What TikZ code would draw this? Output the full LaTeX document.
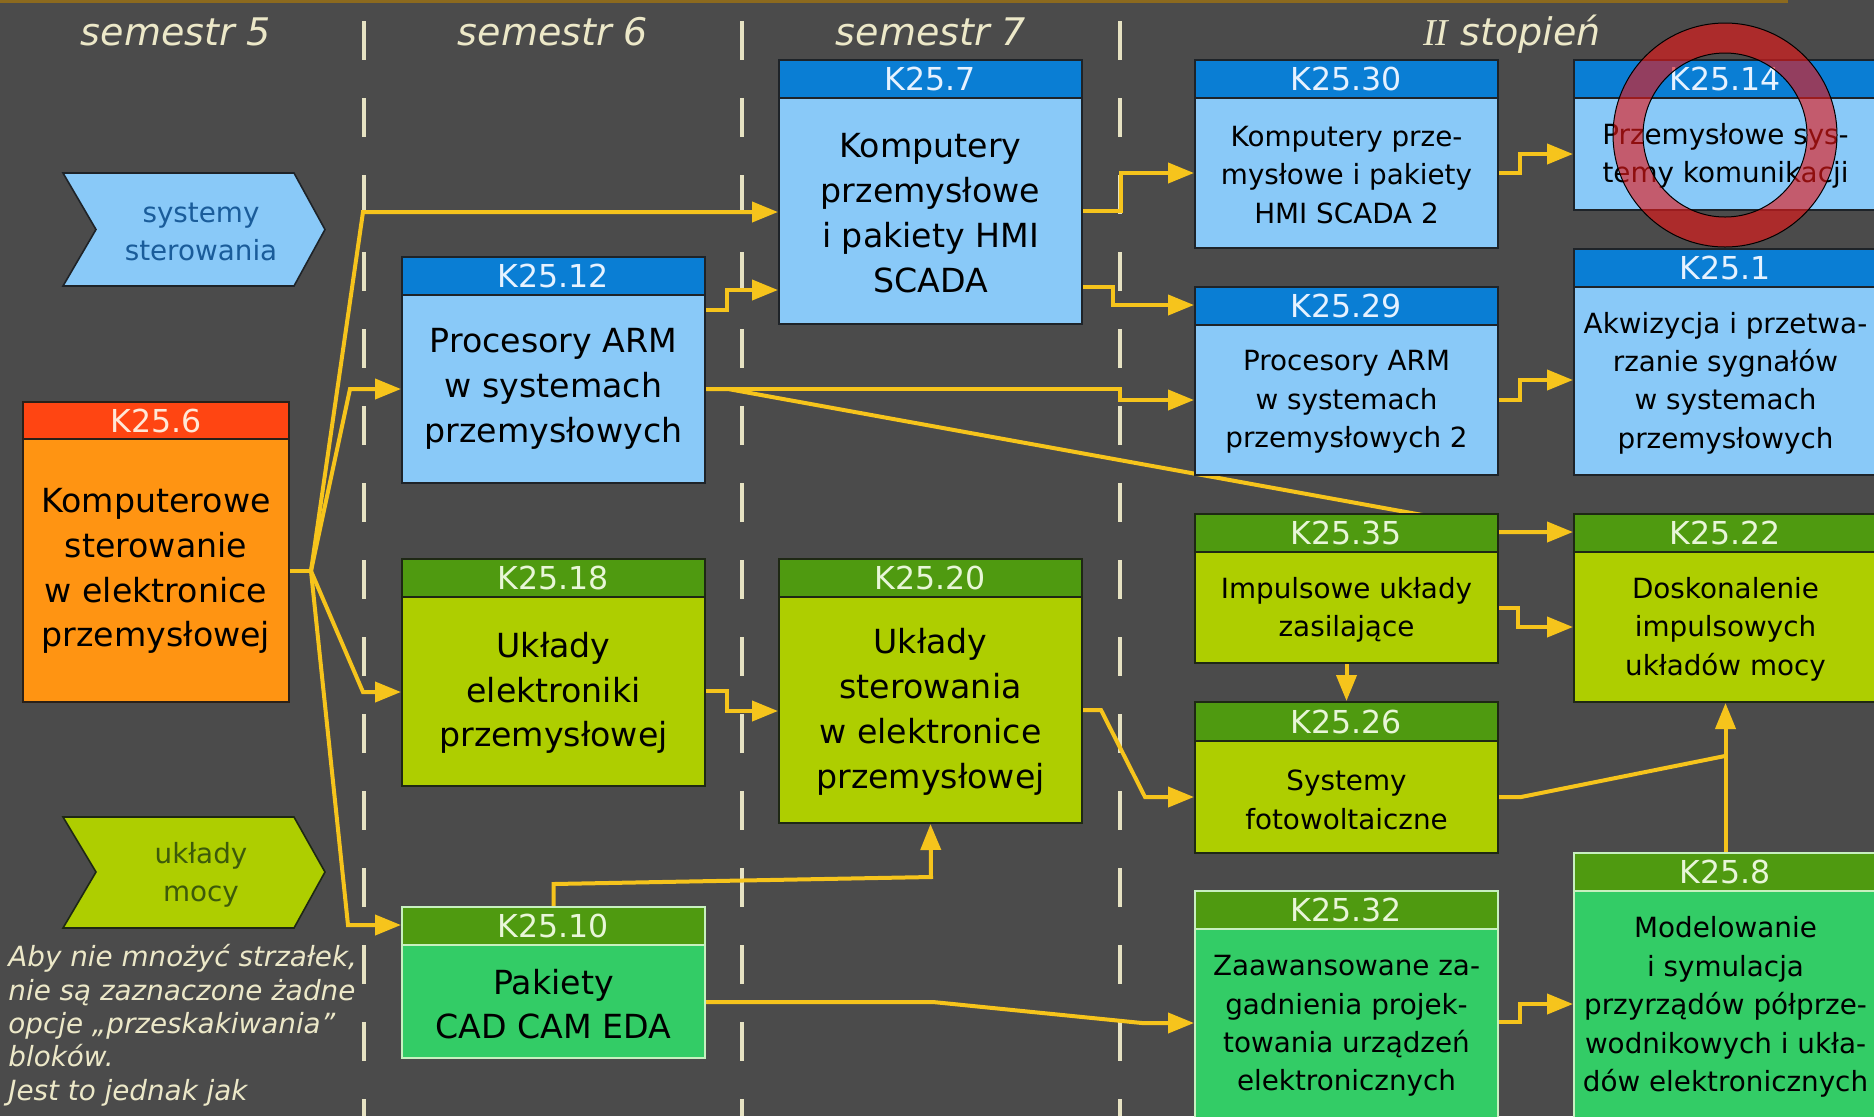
\documentclass[tikz,border=0pt]{standalone}
\usepackage{fontspec}
\setmainfont{DejaVu Sans}
\newfontfamily\romanfam{Liberation Serif}
\usetikzlibrary{arrows.meta,fit,calc}

\definecolor{bg}{HTML}{4B4B4B}
\definecolor{rule}{HTML}{E6E2C2}
\definecolor{topline}{HTML}{8C6A1E}
\definecolor{flow}{HTML}{F6C41C}
\definecolor{cream}{HTML}{ECE8C8}
\definecolor{bluehead}{HTML}{0A7ED4}
\definecolor{bluebody}{HTML}{89C9F8}
\definecolor{blueedge}{HTML}{1E2328}
\definecolor{bluetext}{HTML}{E6F2FF}
\definecolor{limehead}{HTML}{4F9A10}
\definecolor{limebody}{HTML}{AECE00}
\definecolor{limeedge}{HTML}{1E2814}
\definecolor{limetext}{HTML}{E8F6D8}
\definecolor{greenhead}{HTML}{4F9A10}
\definecolor{greenbody}{HTML}{33CC66}
\definecolor{greenedge}{HTML}{C8F0C0}
\definecolor{greentext}{HTML}{E8F6D8}
\definecolor{orangehead}{HTML}{FF4512}
\definecolor{orangebody}{HTML}{FF9412}
\definecolor{orangeedge}{HTML}{2A2018}
\definecolor{orangetext}{HTML}{FFE8D8}
\definecolor{chevblue}{HTML}{89C9F8}
\definecolor{chevbluetext}{HTML}{1A5C9A}
\definecolor{chevlime}{HTML}{AECE00}
\definecolor{chevlimetext}{HTML}{3D5A0A}
\definecolor{ring}{HTML}{E81818}

\newcommand\bigtxt{\fontsize{16.6}{22.4}\selectfont}
\newcommand\smalltxt{\fontsize{13.9}{19.2}\selectfont}
\newcommand\crswidth{303}

% course box: name, left x, top y, header bottom y, bottom y,
% colour scheme, code, text, text centre y
\newcommand\course[9]{%
  \fill[#6body] (#2,#4) rectangle ({#2+\crswidth},#5);
  \fill[#6head] (#2,#3) rectangle ({#2+\crswidth},#4);
  \draw[#6edge, line width=1pt] (#2,#4) -- ({#2+\crswidth},#4);
  \node[fit={(#2,#3) ({#2+\crswidth},#5)}, inner sep=0pt, draw=#6edge, line width=1pt] (#1) {};
  \node[codetext, text=#6text] (#1-code) at ({#2+\crswidth/2},{(#3+#4)/2}) {#7};
  \node[bodytext, font=\crsfont] (#1-text) at ({#2+\crswidth/2},#9) {#8};
}
\newcommand\courseL{\def\crsfont{\bigtxt}\course}
\newcommand\courseS{\def\crsfont{\smalltxt}\course}

\pgfdeclarelayer{ground}
\pgfdeclarelayer{links}
\pgfdeclarelayer{marks}
\pgfsetlayers{ground,links,main,marks}

\tikzset{
  codetext/.style={inner sep=0pt, font=\fontsize{15.8}{18}\selectfont},
  bodytext/.style={inner sep=0pt, align=center, text=black},
  semhead/.style={anchor=base, inner sep=0pt, text=cream, font=\fontsize{19}{22}\selectfont\itshape},
  chevtext/.style={inner sep=0pt, align=center, font=\fontsize{13.9}{19}\selectfont},
  flowline/.style={draw=flow, line width=2pt},
  flow/.style={flowline, -{Triangle[length=13pt,width=10pt]}},
  sep/.style={draw=rule, line width=2pt, dash pattern=on 19.5pt off 19pt},
}

\begin{document}
\begin{tikzpicture}[x=0.5pt,y=-0.5pt]
\useasboundingbox (0,0) rectangle (1874,1116);
\clip (0,0) rectangle (1874,1116);

\begin{pgfonlayer}{ground}
\fill[bg] (0,0) rectangle (1874,1116);
\fill[topline] (0,0) rectangle (1788,3);
% semester separators
\foreach \sx in {364,742,1120} \draw[sep] (\sx,21) -- (\sx,1116);
\end{pgfonlayer}

% column titles
\node[semhead] (sem5) at (176,45) {semestr 5};
\node[semhead] (sem6) at (553,45) {semestr 6};
\node[semhead] (sem7) at (931,45) {semestr 7};
\node[semhead] (sem2) at (1512,45) {{\romanfam II} stopień};

% footnote
\node[anchor=north west, inner sep=0pt, align=left, text=cream,
      font=\fontsize{13.9}{16.7}\selectfont\itshape] (note) at (8,944)
  {Aby nie mnożyć strzałek,\\nie są zaznaczone żadne\\opcje „przeskakiwania”\\bloków.\\Jest to jednak jak};

% specialisation chevrons
\fill[chevblue, draw=blueedge, line width=0.8pt] (63,173) -- (294,173) -- (325,229.5) -- (294,286) -- (63,286) -- (96,229.5) -- cycle;
\node[chevtext, text=chevbluetext] (sys) at (201,232) {systemy\\sterowania};
\fill[chevlime, draw=limeedge, line width=0.8pt] (63,817) -- (294,817) -- (325,872) -- (294,928) -- (63,928) -- (96,872) -- cycle;
\node[chevtext, text=chevlimetext] (moc) at (201,875) {układy\\mocy};

% courses
\renewcommand\crswidth{266}
\courseL{k6}{23}{402}{439}{702}{orange}{K25.6}{Komputerowe\\sterowanie\\w elektronice\\przemysłowej}{571}
\renewcommand\crswidth{303}
\courseL{k12}{402}{257}{295}{483}{blue}{K25.12}{Procesory ARM\\w systemach\\przemysłowych}{389}
\courseL{k18}{402}{559}{597}{786}{lime}{K25.18}{Układy\\elektroniki\\przemysłowej}{693}
\courseL{k10}{402}{907}{945}{1058}{green}{K25.10}{Pakiety\\CAD CAM EDA}{1004}
\courseL{k7}{779}{60}{98}{324}{blue}{K25.7}{Komputery\\przemysłowe\\i pakiety HMI\\SCADA}{213}
\courseL{k20}{779}{559}{597}{823}{lime}{K25.20}{Układy\\sterowania\\w elektronice\\przemysłowej}{712}
\courseS{k30}{1195}{60}{98}{248}{blue}{K25.30}{Komputery prze-\\mysłowe i pakiety\\HMI SCADA 2}{175}
\courseS{k29}{1195}{287}{325}{475}{blue}{K25.29}{Procesory ARM\\w systemach\\przemysłowych 2}{402}
\courseS{k35}{1195}{514}{552}{663}{lime}{K25.35}{Impulsowe układy\\zasilające}{610}
\courseS{k26}{1195}{702}{741}{853}{lime}{K25.26}{Systemy\\fotowoltaiczne}{800}
\courseS{k32}{1195}{891}{929}{1140}{green}{K25.32}{Zaawansowane za-\\gadnienia projek-\\towania urządzeń\\elektronicznych}{1026}
\courseS{k14}{1574}{60}{98}{210}{blue}{K25.14}{Przemysłowe sys-\\temy komunikacji}{156}
\courseS{k1}{1574}{249}{287}{475}{blue}{K25.1}{Akwizycja i przetwa-\\rzanie sygnałów\\w systemach\\przemysłowych}{383}
\courseS{k22}{1574}{514}{552}{702}{lime}{K25.22}{Doskonalenie\\impulsowych\\układów mocy}{629}
\courseS{k8}{1574}{853}{891}{1140}{green}{K25.8}{Modelowanie\\i symulacja\\przyrządów półprze-\\wodnikowych i ukła-\\dów elektronicznych}{1007}

% prerequisite arrows, below the boxes
\begin{pgfonlayer}{links}
\coordinate (fan) at (311,571);
\coordinate (join) at (1725,756);
\draw[flowline] (k6.east |- fan) -- (fan);
\draw[flow] (fan) -- (363,212) -- (k7.west |- 0,212);
\draw[flow] (fan) -- (350,389) -- (k12.west |- 0,389);
\draw[flow] (fan) -- (363,692) -- (k18.west |- 0,692);
\draw[flow] (fan) -- (348,925) -- (k10.west |- 0,925);

\draw[flow] (k12.east |- 0,310) -- (727,310) -- (727,290) -- (k7.west |- 0,290);
\draw[flow] (k12.east |- 0,389) -- (1120,389) -- (1120,400) -- (k29.west |- 0,400);
\draw[flow] (k12.east |- 0,389) -- (728,389) -- (1450,520) -- (1490,532) -- (k22.west |- 0,532);
\draw[flow] (k18.east |- 0,691) -- (727,691) -- (727,711) -- (k20.west |- 0,711);
\draw[flow] (k10.north) -- (553.5,884) -- (931,877) -- (k20.south);
\draw[flow] (k10.east |- 0,1002) -- (933,1002) -- (1142,1023) -- (k32.west |- 0,1023);

\draw[flow] (k7.east |- 0,211) -- (1121,211) -- (1121,173) -- (k30.west |- 0,173);
\draw[flow] (k7.east |- 0,287) -- (1113,287) -- (1113,305) -- (k29.west |- 0,305);
\draw[flow] (k20.east |- 0,710) -- (1101,710) -- (1145,797) -- (k26.west |- 0,797);

\draw[flow] (k30.east |- 0,173) -- (1520,173) -- (1520,154) -- (k14.west |- 0,154);
\draw[flow] (k29.east |- 0,400) -- (1520,400) -- (1520,380) -- (k1.west |- 0,380);
\draw[flow] (k35.south) -- (k26.north);
\draw[flow] (k35.east |- 0,608) -- (1518,608) -- (1518,627) -- (k22.west |- 0,627);
\draw[flowline] (k26.east |- 0,797) -- (1521,797) -- (join);
\draw[flow] (k8.north) -- (k22.south);
\draw[flow] (k32.east |- 0,1022) -- (1520,1022) -- (1520,1004) -- (k8.west |- 0,1004);
\end{pgfonlayer}

% red ring over K25.14
\begin{pgfonlayer}{marks}
\fill[ring, fill opacity=0.62, even odd rule] (1725,135) circle[radius=112] (1725,135) circle[radius=82];
\draw[black, line width=0.5pt] (1725,135) circle[radius=112] (1725,135) circle[radius=82];
\end{pgfonlayer}
\end{tikzpicture}
\end{document}
